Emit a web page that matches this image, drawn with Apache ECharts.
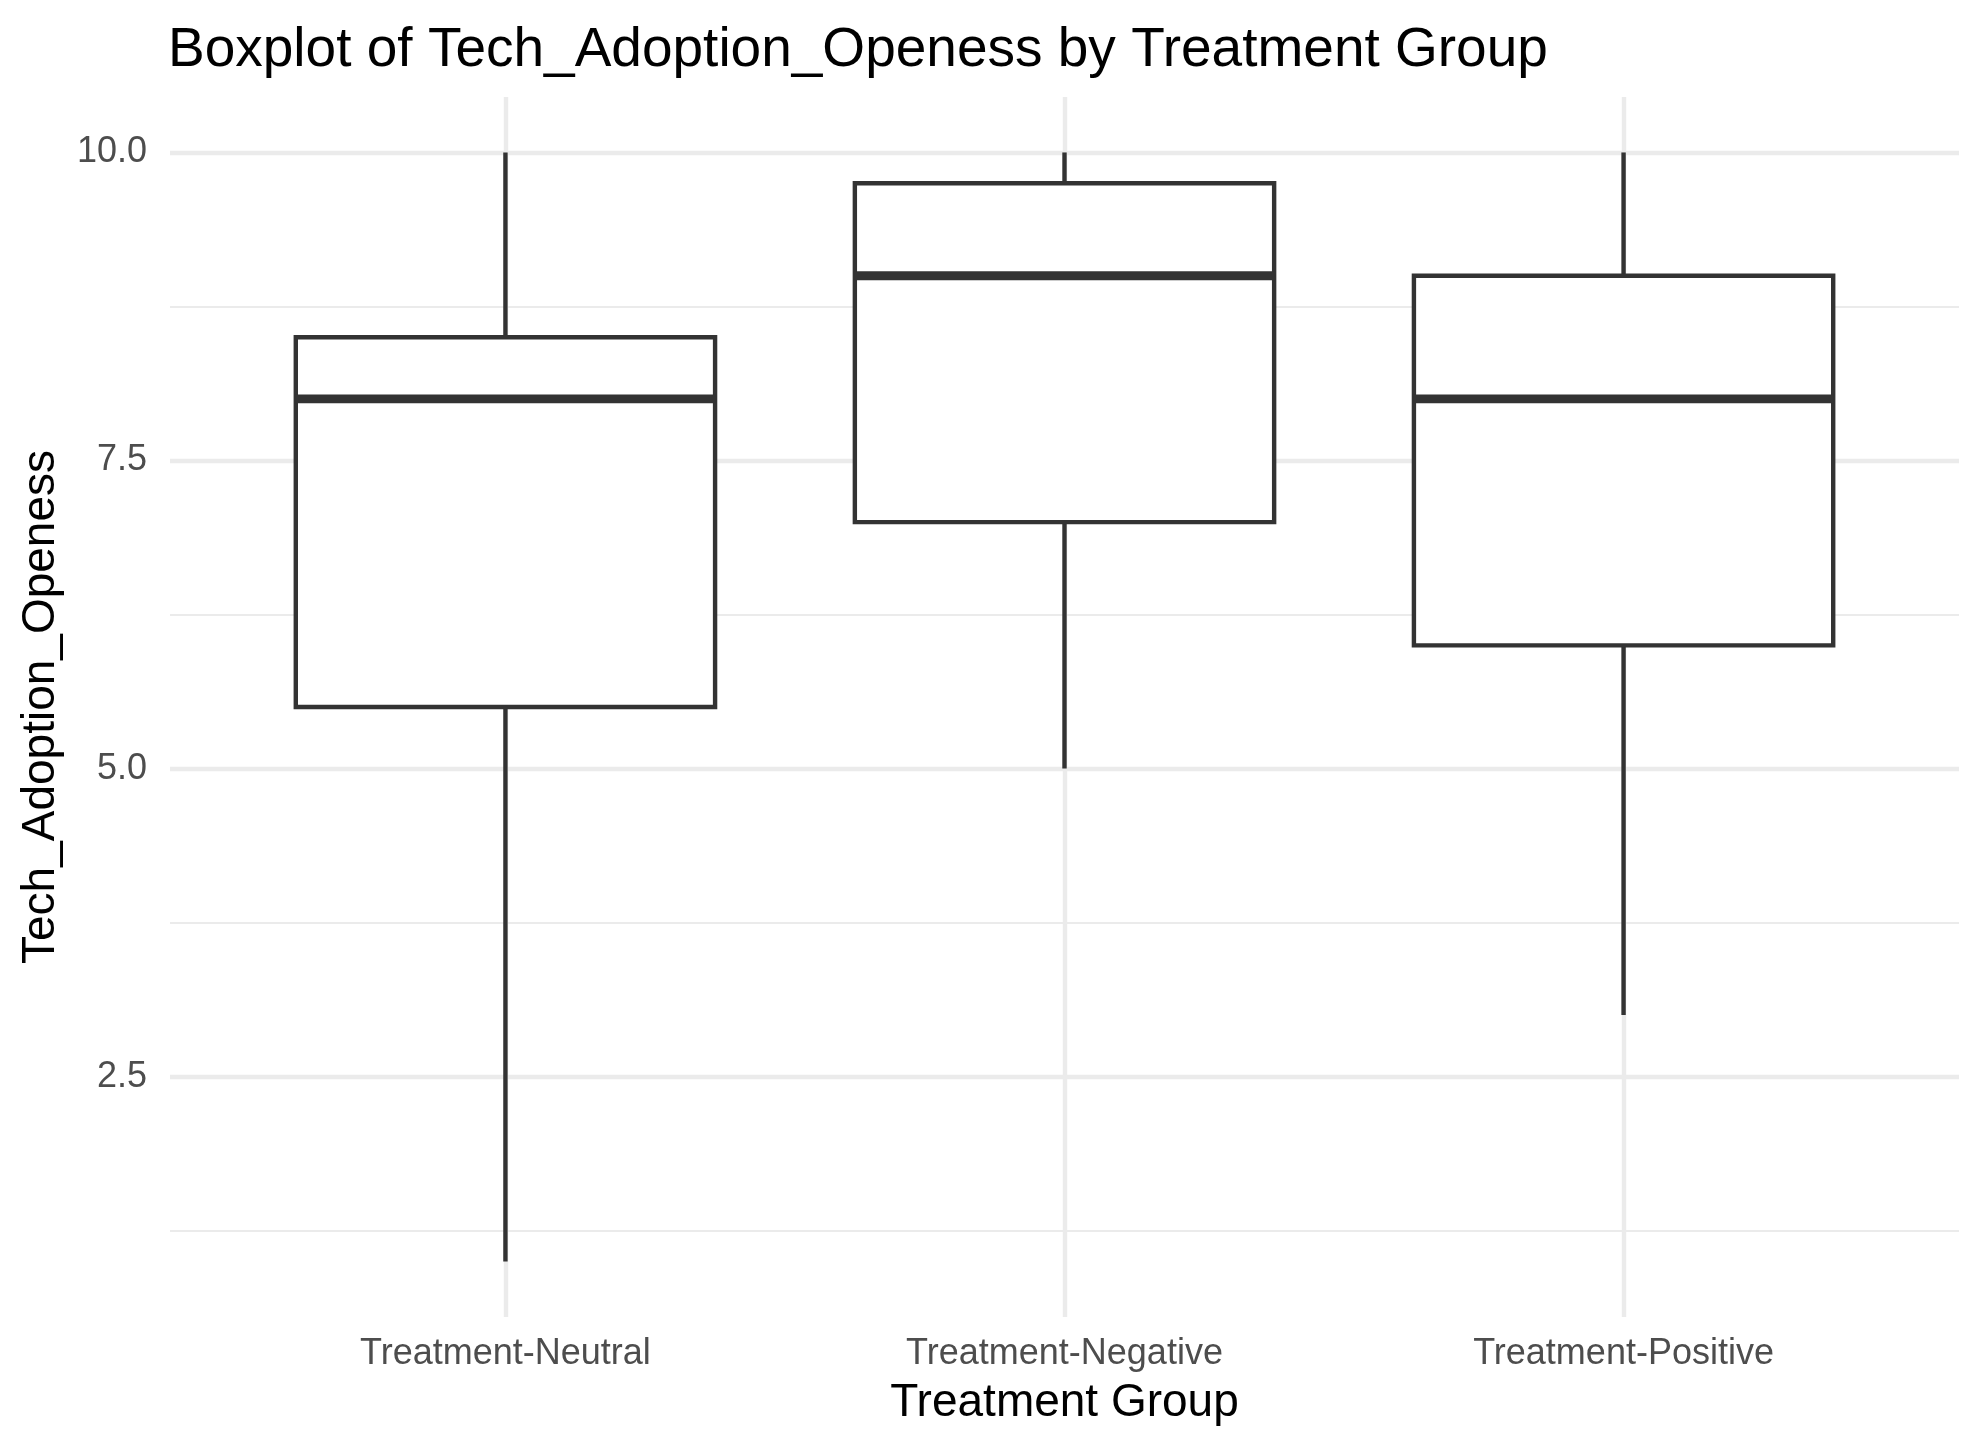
<!DOCTYPE html>
<html lang="en">
<head>
  <meta charset="UTF-8">
  <title>Boxplot of Tech_Adoption_Openess</title>
  <script src="https://cdn.jsdelivr.net/npm/echarts@6/dist/echarts.min.js"></script>
</head>
<body style="margin: 0;">
<div id="chart" style="width: 1983px;height: 1449px;"></div>

<script>
  // data
  const groups = ['Treatment-Neutral', 'Treatment-Negative', 'Treatment-Positive'];
  const whiskerLow = [1, 5, 3];
  const q1 = [5.5, 7, 6];
  const median = [8, 9, 8];
  const q3 = [8.5, 9.75, 9];
  const whiskerHigh = [10, 10, 10];

  const yTicks = [2.5, 5, 7.5, 10];
  const yMinor = [1.25, 3.75, 6.25, 8.75];
  const xTicks = [1, 2, 3];

  const font = '"Liberation Sans", Arial, sans-serif';
  const ink = '#333333';
  const gridColor = '#EBEBEB';

  let boxData = groups.map(function (g, i) {
    return [i + 1, whiskerLow[i], q1[i], median[i], q3[i], whiskerHigh[i]];
  });

  function renderBox(params, api) {
    let x = api.value(0);
    let half = api.size([0.375, 0])[0];
    let pLow = api.coord([x, api.value(1)]);
    let pQ1 = api.coord([x, api.value(2)]);
    let pMed = api.coord([x, api.value(3)]);
    let pQ3 = api.coord([x, api.value(4)]);
    let pHigh = api.coord([x, api.value(5)]);
    let cx = pMed[0];
    return {
      type: 'group',
      children: [
        {type: 'line', shape: {x1: cx, y1: pLow[1], x2: cx, y2: pQ1[1]},
          style: {stroke: ink, lineWidth: 4.4}},
        {type: 'line', shape: {x1: cx, y1: pQ3[1], x2: cx, y2: pHigh[1]},
          style: {stroke: ink, lineWidth: 4.4}},
        {type: 'rect', shape: {x: cx - half, y: pQ3[1], width: half * 2, height: pQ1[1] - pQ3[1]},
          style: {fill: '#ffffff', stroke: ink, lineWidth: 4.4}},
        {type: 'line', shape: {x1: cx - half, y1: pMed[1], x2: cx + half, y2: pMed[1]},
          style: {stroke: ink, lineWidth: 8.9}}
      ]
    };
  }

  let gridLines = [];
  yMinor.forEach(function (v) {
    gridLines.push({yAxis: v, lineStyle: {width: 2.2}});
  });
  yTicks.forEach(function (v) {
    gridLines.push({yAxis: v, lineStyle: {width: 4.4}});
  });
  xTicks.forEach(function (v) {
    gridLines.push({xAxis: v, lineStyle: {width: 4.4}});
  });

  let chart = echarts.init(document.getElementById('chart'));
  let option = {
    animation: false,
    backgroundColor: '#ffffff',
    title: {
      text: 'Boxplot of Tech_Adoption_Openess by Treatment Group',
      left: 163,
      top: 18,
      textStyle: {fontFamily: font, fontSize: 55, fontWeight: 'normal', color: '#000000'}
    },
    grid: {left: 170, right: 24, top: 97, bottom: 132, outerBoundsMode: 'none'},
    xAxis: {
      type: 'value',
      min: 0.4,
      max: 3.6,
      name: 'Treatment Group',
      nameLocation: 'middle',
      nameGap: 63,
      nameTextStyle: {fontFamily: font, fontSize: 46, color: '#000000'},
      axisLine: {show: false},
      axisTick: {show: false},
      splitLine: {show: false},
      axisLabel: {
        customValues: xTicks,
        margin: 19,
        fontFamily: font,
        fontSize: 36,
        color: '#4D4D4D',
        formatter: function (v) {
          return groups[Math.round(v) - 1] || '';
        }
      }
    },
    yAxis: {
      type: 'value',
      min: 0.55,
      max: 10.45,
      name: 'Tech_Adoption_Openess',
      nameLocation: 'middle',
      nameGap: 106,
      nameTextStyle: {fontFamily: font, fontSize: 46, color: '#000000'},
      axisLine: {show: false},
      axisTick: {show: false},
      splitLine: {show: false},
      axisLabel: {
        customValues: yTicks,
        margin: 23,
        fontFamily: font,
        fontSize: 36,
        color: '#4D4D4D',
        formatter: function (v) {
          return v.toFixed(1);
        }
      }
    },
    series: [
      {
        type: 'line',
        data: [],
        z: 1,
        silent: true,
        markLine: {
          silent: true,
          symbol: ['none', 'none'],
          label: {show: false},
          lineStyle: {color: gridColor, type: 'solid'},
          emphasis: {disabled: true},
          data: gridLines
        }
      },
      {
        type: 'custom',
        z: 5,
        renderItem: renderBox,
        encode: {x: 0, y: [1, 2, 3, 4, 5]},
        data: boxData
      }
    ]
  };
  chart.setOption(option);
</script>
</body>
</html>
